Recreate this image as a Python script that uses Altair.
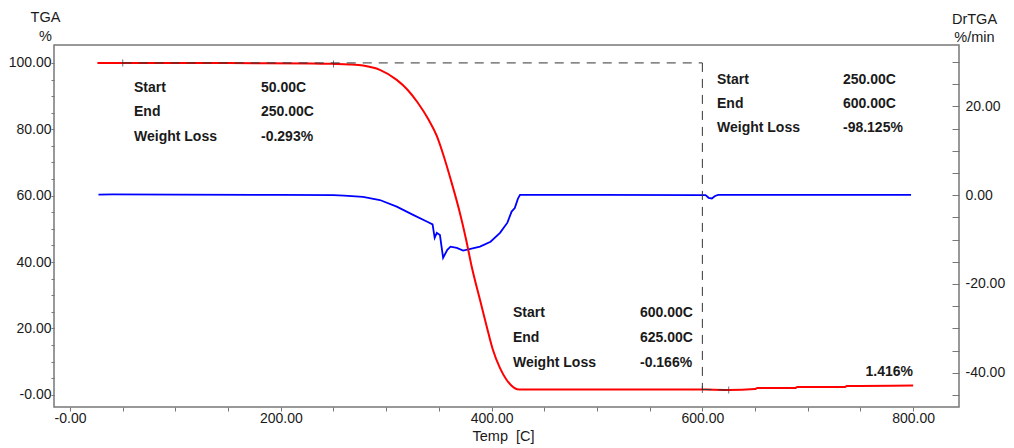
import altair as alt
import pandas as pd

# TGA mass curve (% of initial mass) against temperature (C)
tga_temp = [26, 50, 150, 230, 250, 265, 278, 294, 310, 320, 330, 340, 348, 355,
            362, 370, 376, 381, 389, 395, 401, 408, 414, 419, 423, 426, 470, 516,
            518, 598, 600, 625, 650, 652, 688, 690, 735, 737, 800]
tga_pct = [100.0, 100.0, 99.95, 99.85, 99.71, 99.55, 99.2, 97.9, 94.9, 92.0, 88.0,
           83.0, 78.0, 71.5, 64.0, 54.7, 46.5, 38.8, 28.6, 21.0, 13.8, 8.0, 4.6,
           2.7, 1.8, 1.6, 1.55, 1.55, 1.6, 1.6, 1.582, 1.416, 1.7, 2.0, 2.0, 2.3,
           2.3, 2.6, 2.8]

# Derivative curve (%/min) against temperature (C)
dtg_temp = [27, 40, 100, 200, 250, 260, 278, 294, 310, 326, 339, 344, 346, 348,
            351, 354, 358, 361, 367, 373, 380, 389, 399, 408, 415, 419, 422, 425,
            427, 500, 598, 603, 606, 609, 612, 615, 700, 798]
dtg_val = [0.1, 0.15, 0.1, 0.05, 0.0, -0.1, -0.4, -1.1, -2.6, -4.5, -6.0, -6.6,
           -9.6, -8.5, -9.0, -14.1, -12.3, -11.6, -11.9, -12.5, -12.1, -11.6,
           -10.5, -8.5, -6.2, -3.7, -2.9, -0.8, 0.05, 0.05, 0.0, 0.0, -0.6, -0.75,
           -0.2, 0.05, 0.05, 0.05]

# Analysis steps: start/end temperature, mass at each end, and reported loss
step_start = [50.0, 250.0, 600.0]
step_end = [250.0, 600.0, 625.0]
step_mass_start = [100.0, 99.707, 1.582]
step_mass_end = [99.707, 1.582, 1.416]
step_loss = ["-0.293%", "-98.125%", "-0.166%"]
residue_label = "1.416%"

FONT = "Liberation Sans"
TEXT_COLOR = "#1a1a1a"
FRAME = "#777777"

tga_df = pd.DataFrame({"temp": tga_temp, "tga": tga_pct})
dtg_df = pd.DataFrame({"temp": dtg_temp, "dtg": dtg_val})

# Dashed guides: level line across the big step, drop line at its end, and the last step
guides = pd.DataFrame({
    "t1": [step_start[0], step_end[1], step_start[2]],
    "t2": [step_end[1], step_end[1], step_end[2]],
    "m1": [step_mass_start[0], step_mass_start[0], step_mass_start[2]],
    "m2": [step_mass_start[0], step_mass_start[2], step_mass_end[2]],
})
markers = pd.DataFrame({
    "temp": [step_start[0], step_end[0], step_start[2], step_end[2]],
    "tga": [step_mass_start[0], step_mass_end[0], step_mass_start[2], step_mass_end[2]],
})

# Annotation blocks placed in data coordinates (temperature, TGA %)
block_x_label = [60.7, 613.9, 420.3]
block_x_value = [181.2, 733.4, 540.8]
block_y = [[92.5, 85.2, 77.7], [94.9, 87.7, 80.4], [24.7, 17.2, 9.7]]

rows = []
for i in range(3):
    names = ["Start", "End", "Weight Loss"]
    values = [f"{step_start[i]:.2f}C", f"{step_end[i]:.2f}C", step_loss[i]]
    for j in range(3):
        rows.append({"temp": block_x_label[i], "tga": block_y[i][j], "text": names[j]})
        rows.append({"temp": block_x_value[i], "tga": block_y[i][j], "text": values[j]})
notes = pd.DataFrame(rows)
residue = pd.DataFrame({"temp": [799.8], "tga": [6.9], "text": [residue_label]})

x_scale = alt.Scale(domain=[-15.2, 843.5], nice=False, zero=False)
yl_scale = alt.Scale(domain=[-3.7, 105.4], nice=False, zero=False)
yr_scale = alt.Scale(domain=[-47.7, 33.8], nice=False, zero=False)

x_axis = alt.Axis(
    values=list(range(0, 801, 50)),
    labelExpr="datum.value % 200 == 0 ? (datum.value == 0 ? '-0.00' : format(datum.value, '.2f')) : ''",
    tickSize=4, labelPadding=0, labelFlush=False,
    title="Temp\u00a0\u00a0[C]", titleX=449, titleY=33, titleBaseline="alphabetic",
    titleAnchor="start", titleAlign="center",
)
yl_axis = alt.Axis(
    orient="left",
    values=list(range(0, 101, 5)),
    labelExpr="datum.value % 20 == 0 ? (datum.value == 0 ? '-0.00' : format(datum.value, '.2f')) : ''",
    tickSize=3, labelPadding=0, labelFlush=False,
    title=["TGA", "%"], titleAngle=0, titleX=-9, titleY=-23.5,
    titleAlign="center", titleBaseline="alphabetic", titleLineHeight=18.5,
)
yr_axis = alt.Axis(
    orient="right",
    values=list(range(-45, 31, 5)),
    labelExpr="datum.value % 20 == 0 ? ((datum.value < 0 ? '-' : '') + format(abs(datum.value), '.2f')) : ''",
    offset=-7, tickSize=7, labelPadding=6, labelFlush=False,
    title=["DrTGA", "%/min"], titleAngle=0, titleX=22, titleY=-22,
    titleAlign="center", titleBaseline="alphabetic", titleLineHeight=18.5,
)


def xenc(field="temp"):
    return alt.X(f"{field}:Q", scale=x_scale, axis=x_axis)


dtg_line = alt.Chart(dtg_df).mark_line(color="#0000ff", strokeWidth=1.8).encode(
    x=xenc(), y=alt.Y("dtg:Q", scale=yr_scale, axis=yr_axis), order="temp:Q"
)
tga_line = alt.Chart(tga_df).mark_line(
    color="#ff0000", strokeWidth=2, interpolate="monotone"
).encode(
    x=xenc(), y=alt.Y("tga:Q", scale=yl_scale, axis=yl_axis), order="temp:Q"
)
guide_rules = alt.Chart(guides).mark_rule(
    color="#333333", strokeWidth=1, strokeDash=[9, 7]
).encode(
    x=xenc("t1"), x2="t2:Q",
    y=alt.Y("m1:Q", scale=yl_scale, axis=None), y2="m2:Q",
)
marker_ticks = alt.Chart(markers).mark_tick(
    orient="vertical", color="#333333", size=7, thickness=1
).encode(x=xenc(), y=alt.Y("tga:Q", scale=yl_scale, axis=None))

note_text = alt.Chart(notes).mark_text(
    align="left", baseline="middle", font=FONT, fontSize=14, fontWeight="bold",
    color=TEXT_COLOR,
).encode(x=xenc(), y=alt.Y("tga:Q", scale=yl_scale, axis=None), text="text:N")
residue_text = alt.Chart(residue).mark_text(
    align="right", baseline="middle", font=FONT, fontSize=14, fontWeight="bold",
    color=TEXT_COLOR,
).encode(x=xenc(), y=alt.Y("tga:Q", scale=yl_scale, axis=None), text="text:N")

chart = (
    alt.layer(dtg_line, tga_line, guide_rules, marker_ticks, note_text, residue_text)
    .resolve_scale(y="independent")
    .properties(
        width=905, height=362,
        padding={"left": 54, "top": 45, "right": 55, "bottom": 41},
        autosize=alt.AutoSizeParams(type="none"),
        background="white",
    )
    .configure_view(stroke=FRAME, strokeWidth=1.5)
    .configure_axis(
        domain=False, grid=False, tickColor=FRAME, tickWidth=1,
        labelFont=FONT, labelFontSize=14, labelColor=TEXT_COLOR,
        titleFont=FONT, titleFontSize=14.5, titleFontWeight="normal",
        titleColor=TEXT_COLOR,
    )
)

chart.save("out.html", embed_options={"renderer": "svg", "actions": False})
